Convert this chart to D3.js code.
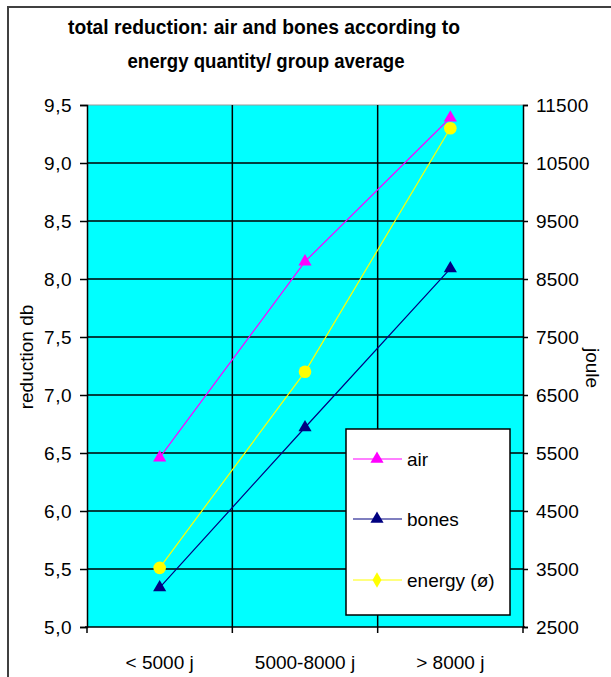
<!DOCTYPE html>
<html><head><meta charset="utf-8">
<script src="https://cdn.jsdelivr.net/npm/d3@7"></script>
<style>body{margin:0;background:#fff}svg{display:block}text{font-family:"Liberation Sans",Arial,sans-serif;fill:#000}</style>
</head><body><svg id="c" width="611" height="677"></svg>
<script>
const title1 = "total reduction: air and bones according to";
const title2 = "energy quantity/ group average";
const categories = ["< 5000 j", "5000-8000 j", "> 8000 j"];
const airValues = [6.46, 8.15, 9.39];
const bonesValues = [5.34, 6.72, 8.09];
const energyValues = [3520, 6900, 11100];
const leftTicks = [5.0, 5.5, 6.0, 6.5, 7.0, 7.5, 8.0, 8.5, 9.0, 9.5];
const rightTicks = [2500, 3500, 4500, 5500, 6500, 7500, 8500, 9500, 10500, 11500];
const seriesNames = ["air", "bones", "energy (ø)"];
const seriesColors = ["#FF00FF", "#000080", "#FFFF00"];

const FS = 19;
const svg = d3.select("#c");
const L = 87, R = 523, T = 105, B = 627;

// outer frame
svg.append("rect").attr("x", 8).attr("y", 7).attr("width", 640).attr("height", 700)
  .attr("fill", "none").attr("stroke", "#404040").attr("stroke-width", 2);

// title
svg.append("text").attr("x", 264).attr("y", 34).attr("text-anchor", "middle")
  .attr("font-size", 21).attr("font-weight", "bold").attr("textLength", 392).attr("lengthAdjust", "spacingAndGlyphs").text(title1);
svg.append("text").attr("x", 266).attr("y", 68).attr("text-anchor", "middle")
  .attr("font-size", 21).attr("font-weight", "bold").attr("textLength", 277).attr("lengthAdjust", "spacingAndGlyphs").text(title2);

const x = d3.scaleBand().domain(categories).range([L, R]).padding(0);
const y = d3.scaleLinear().domain([5, 9.5]).range([B, T]);
const y2 = d3.scaleLinear().domain([2500, 11500]).range([B, T]);

// plot area
svg.append("rect").attr("x", L).attr("y", T).attr("width", R - L).attr("height", B - T).attr("fill", "#00FFFF");
svg.append("line").attr("x1", L).attr("x2", R).attr("y1", T).attr("y2", T).attr("stroke", "#9a9a9a").attr("stroke-width", 1);

// horizontal grid
svg.append("g").selectAll("line").data(leftTicks.slice(1, -1)).join("line")
  .attr("x1", L).attr("x2", R).attr("y1", d => y(d)).attr("y2", d => y(d))
  .attr("stroke", "#000").attr("stroke-width", 1.5);
// vertical grid
svg.append("g").selectAll("line").data(categories.slice(1)).join("line")
  .attr("x1", d => x(d)).attr("x2", d => x(d)).attr("y1", T).attr("y2", B)
  .attr("stroke", "#000").attr("stroke-width", 1.5);

// left axis
const fmt = d => d3.format(".1f")(d).replace(".", ",");
const gl = svg.append("g").attr("transform", `translate(${L},0)`)
  .call(d3.axisLeft(y).tickValues(leftTicks).tickFormat(fmt).tickSizeOuter(0).tickSize(7).tickPadding(8));
gl.selectAll("text").attr("font-size", FS).attr("font-family", "Liberation Sans, Arial, sans-serif").attr("fill", "#000").attr("letter-spacing", 0.5);
gl.selectAll("line,path").attr("stroke", "#000").attr("stroke-width", 1.5);

// right axis
const gr = svg.append("g").attr("transform", `translate(${R},0)`)
  .call(d3.axisRight(y2).tickValues(rightTicks).tickFormat(d3.format("d")).tickSizeOuter(0).tickSize(5).tickPadding(8));
gr.selectAll("text").attr("font-size", FS).attr("font-family", "Liberation Sans, Arial, sans-serif").attr("fill", "#000").attr("letter-spacing", 0.2);
gr.selectAll("line,path").attr("stroke", "#000").attr("stroke-width", 1.5);

// bottom axis
const xt = d3.scaleLinear().domain([0, 3]).range([L, R]);
const gb = svg.append("g").attr("transform", `translate(0,${B})`);
gb.append("line").attr("x1", L - 2).attr("x2", R + 2).attr("stroke", "#000").attr("stroke-width", 1.5);
gb.selectAll("line.t").data([0, 1, 2, 3]).join("line").attr("class", "t")
  .attr("x1", d => xt(d)).attr("x2", d => xt(d)).attr("y1", 0).attr("y2", 6).attr("stroke", "#000").attr("stroke-width", 1.5);
gb.selectAll("text").data(categories).join("text")
  .attr("x", d => x(d) + x.bandwidth() / 2).attr("y", 42).attr("text-anchor", "middle")
  .attr("font-size", FS).text(d => d);

// axis titles
svg.append("text").attr("transform", "translate(33,357) rotate(-90)").attr("text-anchor", "middle")
  .attr("font-size", FS).text("reduction db");
svg.append("text").attr("transform", "translate(586,368) rotate(90)").attr("text-anchor", "middle")
  .attr("font-size", FS).text("joule");

const cx = d => x(d) + x.bandwidth() / 2;
const tri = d3.symbol().type(d3.symbolTriangle).size(75);
const circ = d3.symbol().type(d3.symbolCircle).size(125);

function drawSeries(vals, scale, color, sym) {
  const data = categories.map((c, i) => [cx(c), scale(vals[i])]);
  svg.append("path").attr("d", d3.line()(data)).attr("fill", "none").attr("stroke", color).attr("stroke-width", 1.2);
  svg.append("g").selectAll("path").data(data).join("path")
    .attr("transform", d => `translate(${d[0]},${d[1]})`).attr("d", sym).attr("fill", color);
}
drawSeries(airValues, y, seriesColors[0], tri);
drawSeries(bonesValues, y, seriesColors[1], tri);
drawSeries(energyValues, y2, seriesColors[2], circ);

// legend
const lg = svg.append("g");
lg.append("rect").attr("x", 346).attr("y", 429).attr("width", 164).attr("height", 186)
  .attr("fill", "#fff").attr("stroke", "#000").attr("stroke-width", 1.5);
const ly = [459, 519, 580];
const syms = [tri, tri, d3.symbol().type(d3.symbolDiamond).size(70)];
seriesNames.forEach((n, i) => {
  lg.append("line").attr("x1", 353).attr("x2", 402).attr("y1", ly[i]).attr("y2", ly[i]).attr("stroke", seriesColors[i]).attr("stroke-width", 1.2);
  lg.append("path").attr("transform", `translate(377,${ly[i]})`).attr("d", syms[i]).attr("fill", seriesColors[i]);
  lg.append("text").attr("x", 407).attr("y", ly[i] + 7).attr("font-size", FS).text(n);
});
</script></body></html>
